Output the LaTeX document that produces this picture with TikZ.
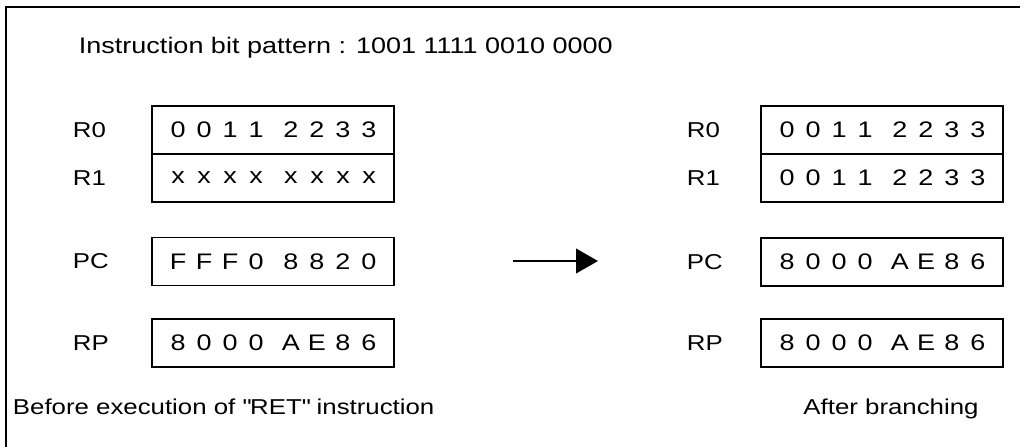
\documentclass[tikz,border=0pt]{standalone}
\usepackage{fontspec}
\setmainfont{Liberation Sans}[FakeStretch=1.2]
\usetikzlibrary{arrows.meta}

% one register value, one fixed-pitch cell per character, | for the group gap
\newcommand\cellpitch{0.65cm}
\def\cellrow#1{\mbox{\cellrowi#1\relax}}
\def\cellrowi#1{\ifx#1\relax\else\cellchar{#1}\expandafter\cellrowi\fi}
\def\cellchar#1{\ifx#1|\hspace{0.22cm}\else\makebox[\cellpitch]{#1}\fi}

\begin{document}
\begin{tikzpicture}[x=0.025cm, y=-0.025cm, font=\fontsize{15.3}{18}\selectfont,
    regbox/.style={draw, line width=0.8pt, text width=5.45cm, align=right,
        inner xsep=0.3cm, inner ysep=0pt, minimum height=1.2cm,
        font=\fontsize{16}{19}\selectfont},
    reglabel/.style={anchor=west}]

        \useasboundingbox (0,0) rectangle (1029,447);
        \draw [line width=1.8pt] (6,447) -- (6,7) -- (1020,7);

        \node [anchor=west, font=\fontsize{16}{19}\selectfont] (title) at (74,48)
            {Instruction bit pattern : 1001 1111 0010 0000};

        % before
        \node [regbox] (r0a) at (273,130) {\cellrow{0011|2233}};
        \node [regbox] (r1a) at (273,178) {\cellrow{xxxx|xxxx}};
        \node [regbox] (pca) at (273,261.5) {\cellrow{FFF0|8820}};
        \node [regbox] (rpa) at (273,343) {\cellrow{8000|AE86}};

        \node [reglabel] (lr0a) at (68,130) {R0};
        \node [reglabel] (lr1a) at (68,178) {R1};
        \node [reglabel] (lpca) at (68,261.5) {PC};
        \node [reglabel] (lrpa) at (68,343) {RP};

        % after
        \node [regbox] (r0b) at (882,130) {\cellrow{0011|2233}};
        \node [regbox] (r1b) at (882,178) {\cellrow{0011|2233}};
        \node [regbox] (pcb) at (882,262) {\cellrow{8000|AE86}};
        \node [regbox] (rpb) at (882,343) {\cellrow{8000|AE86}};

        \node [reglabel] (lr0b) at (682,130) {R0};
        \node [reglabel] (lr1b) at (682,178) {R1};
        \node [reglabel] (lpcb) at (682,262) {PC};
        \node [reglabel] (lrpb) at (682,343) {RP};

        \coordinate (from) at (513,261);
        \coordinate (to) at (598,261);
        \draw [-{Triangle[length=0.55cm,width=0.62cm]}, line width=1pt] (from) -- (to);

        \node [anchor=west] (before) at (8,407) {Before execution of \textquotedbl RET\textquotedbl{} instruction};
        \node (after) at (891,409) {After branching};

\end{tikzpicture}
\end{document}
